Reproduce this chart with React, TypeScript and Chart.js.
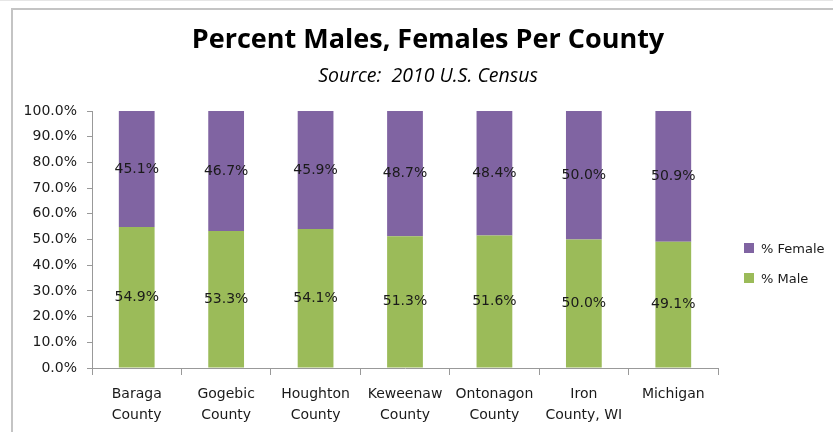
import React, { useEffect, useRef } from "react";
import { Chart, registerables } from "chart.js";

Chart.register(...registerables);

const categories: string[][] = [
  ["Baraga", "County"],
  ["Gogebic", "County"],
  ["Houghton", "County"],
  ["Keweenaw", "County"],
  ["Ontonagon", "County"],
  ["Iron", "County, WI"],
  ["Michigan"],
];
const maleValues = [54.9, 53.3, 54.1, 51.3, 51.6, 50.0, 49.1];
const femaleValues = [45.1, 46.7, 45.9, 48.7, 48.4, 50.0, 50.9];
const seriesNames = ["% Male", "% Female"];
const seriesColors = ["#9BBB59", "#8064A2"];
const titleText = "Percent Males, Females Per County";
const subtitleText = "Source:  2010 U.S. Census";

const FONT = "'DejaVu Sans', sans-serif";
const TFONT = "'Open Sans', sans-serif";

const valueLabels = {
  id: "valueLabels",
  afterDatasetsDraw(chart: any) {
    const ctx = chart.ctx;
    ctx.save();
    ctx.font = `14px ${FONT}`;
    ctx.fillStyle = "#1a1a1a";
    ctx.textAlign = "center";
    ctx.textBaseline = "middle";
    chart.data.datasets.forEach((ds: any, di: number) => {
      const meta = chart.getDatasetMeta(di);
      meta.data.forEach((el: any, i: number) => {
        const p = el.getCenterPoint();
        ctx.fillText(Number(ds.data[i]).toFixed(1) + "%", p.x, p.y);
      });
    });
    ctx.restore();
  },
};

export default function App() {
  const ref = useRef<HTMLCanvasElement | null>(null);
  useEffect(() => {
    if (!ref.current) return;
    const chart = new Chart(ref.current, {
      type: "bar",
      data: {
        labels: categories,
        datasets: [
          { label: seriesNames[0], data: maleValues, backgroundColor: seriesColors[0], barPercentage: 0.4, categoryPercentage: 1 },
          { label: seriesNames[1], data: femaleValues, backgroundColor: seriesColors[1], barPercentage: 0.4, categoryPercentage: 1 },
        ],
      },
      options: {
        responsive: false,
        animation: false,
        devicePixelRatio: 1,
        layout: { padding: { left: 23, right: 0, top: 0, bottom: 0 } },
        plugins: {
          legend: { display: false },
          tooltip: { enabled: false },
          title: {
            display: true,
            text: titleText,
            color: "#000",
            font: { family: TFONT, size: 27, weight: "bold", lineHeight: 1 },
            padding: { top: 27, bottom: 0 },
          },
          subtitle: {
            display: true,
            text: subtitleText,
            color: "#000",
            font: { family: TFONT, size: 19.5, style: "italic", lineHeight: 1 },
            padding: { top: 12.75, bottom: 24.75 },
          },
        },
        scales: {
          x: {
            stacked: true,
            afterFit: (s: any) => { s.height = 64; },
            grid: { display: true, drawOnChartArea: false, drawTicks: true, tickLength: 7, color: "#999", offset: true },
            border: { display: true, color: "#999" },
            ticks: { color: "#1a1a1a", padding: 9, maxRotation: 0, autoSkip: false, font: { family: FONT, size: 14, lineHeight: 1.5 } },
          },
          y: {
            stacked: true,
            min: 0,
            max: 100,
            afterFit: (s: any) => { s.width = 69; },
            grid: { display: true, drawOnChartArea: false, drawTicks: true, tickLength: 5, color: "#999" },
            border: { display: true, color: "#999" },
            ticks: {
              stepSize: 10,
              padding: 10,
              color: "#1a1a1a",
              font: { family: FONT, size: 14 },
              callback: (v: any) => Number(v).toFixed(1) + "%",
            },
          },
          yR: {
            type: "linear",
            position: "right",
            display: true,
            afterFit: (s: any) => { s.width = 115; },
            grid: { display: false },
            border: { display: false },
            ticks: { display: false },
          },
        },
      },
      plugins: [valueLabels],
    } as any);
    return () => chart.destroy();
  }, []);

  const legendOrder = [1, 0];
  return (
    <div style={{ position: "fixed", left: 0, top: 0, width: 833, height: 432, background: "#fff", overflow: "hidden" }}>
      <div style={{ position: "absolute", left: 0, top: 0, width: 833, height: 1, background: "#e6e6e6" }} />
      <div style={{ position: "absolute", left: 11, top: 8, width: 840, height: 440, borderLeft: "2px solid #c4c4c4", borderTop: "2px solid #c4c4c4" }} />
      <canvas ref={ref} width={833} height={432} style={{ position: "absolute", left: 0, top: 0, width: 833, height: 432 }} />
      {legendOrder.map((si, k) => (
        <div key={si} style={{ position: "absolute", left: 744, top: 241 + k * 30, height: 14, display: "flex", alignItems: "center", fontFamily: FONT, fontSize: 13, color: "#1a1a1a", whiteSpace: "nowrap" }}>
          <span style={{ display: "inline-block", width: 10, height: 10, background: seriesColors[si], marginRight: 7 }} />
          <span>{seriesNames[si]}</span>
        </div>
      ))}
    </div>
  );
}
